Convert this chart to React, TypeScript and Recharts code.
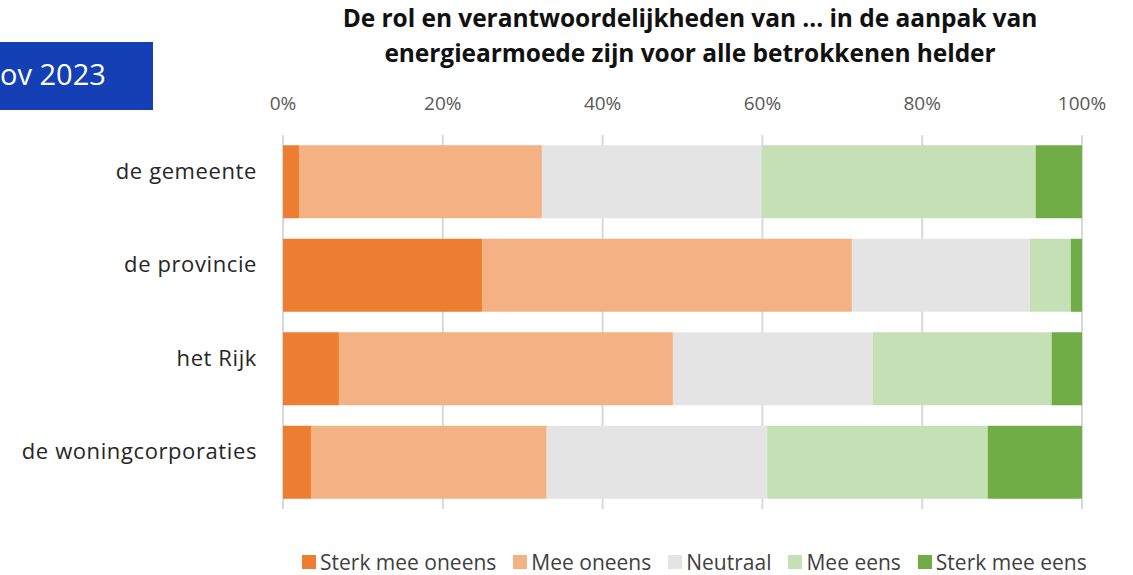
import { BarChart, Bar, XAxis, YAxis, CartesianGrid } from 'recharts';

const categories = ['de gemeente', 'de provincie', 'het Rijk', 'de woningcorporaties'];
const sterkOneens = [2.0, 24.9, 7.0, 3.5];
const oneens = [30.4, 46.3, 41.8, 29.5];
const neutraal = [27.5, 22.3, 25.0, 27.6];
const eens = [34.3, 5.1, 22.4, 27.6];
const sterkEens = [5.8, 1.4, 3.8, 11.8];
const xTicks = [0, 20, 40, 60, 80, 100];

const SERIES = [
  { key: 'sterkOneens', name: 'Sterk mee oneens', color: '#ED7D31', values: sterkOneens },
  { key: 'oneens', name: 'Mee oneens', color: '#F4B183', values: oneens },
  { key: 'neutraal', name: 'Neutraal', color: '#E4E4E4', values: neutraal },
  { key: 'eens', name: 'Mee eens', color: '#C5E0B4', values: eens },
  { key: 'sterkEens', name: 'Sterk mee eens', color: '#70AD47', values: sterkEens },
];

const data = categories.map((name, i) => {
  const row: any = { name };
  SERIES.forEach(s => { row[s.key] = s.values[i]; });
  return row;
});

const FONT = '"Open Sans", "Noto Sans", sans-serif';

export default function App() {
  return (
    <div style={{ position: 'absolute', left: 0, top: 0, width: 1133, height: 575, fontFamily: FONT, background: '#fff', overflow: 'hidden' }}>
      <div style={{ position: 'absolute', left: 0, top: 42, width: 153, height: 68, background: '#143FB5', color: '#fff', fontSize: 29, lineHeight: '64px', whiteSpace: 'nowrap', overflow: 'hidden' }}>
        ov 2023
      </div>
      <div style={{ position: 'absolute', left: 190, width: 1000, top: 0, textAlign: 'center', fontWeight: 700, fontSize: 24.5, lineHeight: '35px', color: '#111', letterSpacing: -0.05 }}>
        De rol en verantwoordelijkheden van ... in de aanpak van<br />
        energiearmoede zijn voor alle betrokkenen helder
      </div>
      <BarChart
        width={1133}
        height={575}
        data={data}
        layout="vertical"
        margin={{ top: 95, right: 51, bottom: 66, left: 0 }}
        barCategoryGap="11%"
        style={{ position: 'absolute', left: 0, top: 0 }}
      >
        <CartesianGrid horizontal={false} stroke="#D9D9D9" strokeWidth={2} />
        <XAxis
          type="number"
          orientation="top"
          domain={[0, 100]}
          ticks={xTicks}
          tickFormatter={(v) => `${v}%`}
          axisLine={false}
          tickLine={false}
          tickSize={0}
          tickMargin={25}
          height={40}
          tick={{ fill: '#595959', fontSize: 19, fontFamily: FONT }}
        />
        <YAxis
          type="category"
          dataKey="name"
          width={283}
          axisLine={false}
          tickLine={false}
          tickSize={0}
          tickMargin={26}
          tick={{ fill: '#262626', fontSize: 22, fontFamily: FONT, dy: -11, letterSpacing: 0.6 }}
        />
        {SERIES.map(s => (
          <Bar key={s.key} dataKey={s.key} name={s.name} stackId="a" fill={s.color} isAnimationActive={false} />
        ))}
      </BarChart>
      <div style={{ position: 'absolute', left: 302, top: 548, display: 'flex', fontSize: 21, color: '#404040', whiteSpace: 'nowrap' }}>
        {SERIES.map(s => (
          <div key={s.key} style={{ display: 'flex', alignItems: 'center', marginRight: 17 }}>
            <span style={{ display: 'inline-block', width: 14, height: 14, background: s.color, marginRight: 4 }} />
            <span>{s.name}</span>
          </div>
        ))}
      </div>
    </div>
  );
}
